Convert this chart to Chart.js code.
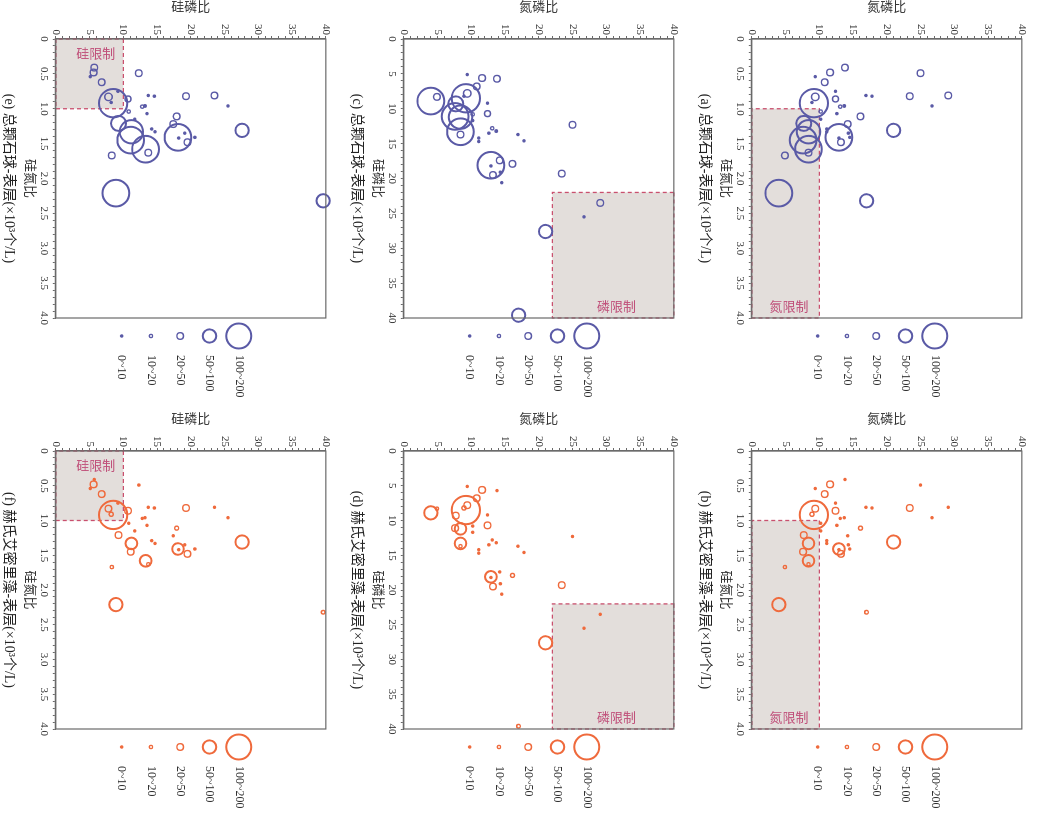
<!DOCTYPE html>
<html>
<head>
<meta charset="utf-8">
<script src="https://cdn.jsdelivr.net/npm/chart.js@4.4.1/dist/chart.umd.min.js"></script>
<style>
  html, body { margin: 0; padding: 0; background: #fff; overflow: hidden; width: 1038px; height: 817px; }
  /* the figure is laid out upright and then turned a quarter clockwise */
  #sheet { position: absolute; left: 0; top: 0; width: 817px; height: 1038px; background: #fff;
           transform-origin: 0 0; transform: translate(1038px, 0) rotate(90deg); }
  #sheet canvas { position: absolute; }
</style>
</head>
<body>
<div id="sheet">
  <canvas id="pa"></canvas>
  <canvas id="pb"></canvas>
  <canvas id="pc"></canvas>
  <canvas id="pd"></canvas>
  <canvas id="pe"></canvas>
  <canvas id="pf"></canvas>
</div>
<script>
// station ratios
const stationNP = [13.8, 11.6, 25.0, 9.4, 10.8, 12.4, 16.9, 17.8, 23.4, 29.1, 26.7, 9.2, 9.4, 8.9, 12.4, 13.1, 13.7, 12.6, 16.1, 10.2,
                   10.2, 14.2, 11.1, 11.1, 21.0, 7.7, 8.4, 7.6, 8.4, 8.4, 12.9, 13.2, 12.9, 14.3, 14.5, 4.9, 4.0, 17.0];
const stationSN = [0.41, 0.48, 0.49, 0.54, 0.62, 0.75, 0.81, 0.82, 0.82, 0.81, 0.96, 0.92, 0.83, 0.91, 0.86, 0.97, 0.96, 1.07, 1.11, 1.04,
                   1.15, 1.22, 1.29, 1.33, 1.31, 1.21, 1.33, 1.45, 1.58, 1.63, 1.41, 1.48, 1.42, 1.35, 1.41, 1.67, 2.21, 2.32];
const stationSP = [5.7, 5.6, 12.3, 5.1, 6.8, 9.2, 13.7, 14.6, 19.3, 23.5, 25.5, 8.5, 7.8, 8.2, 10.7, 12.8, 13.2, 13.5, 17.9, 10.8,
                   11.7, 17.4, 14.2, 14.7, 27.6, 9.3, 11.2, 11.1, 13.3, 13.7, 18.1, 19.5, 18.2, 19.1, 20.6, 8.3, 8.9, 39.6];
// abundance, x10^3 cells/L
const totalCells = [40, 40, 40, 5, 40, 5, 5, 5, 40, 40, 5, 170, 45, 5, 36, 20, 16, 5, 40, 20,
                    5, 40, 5, 5, 80, 90, 140, 160, 160, 40, 160, 40, 5, 5, 5, 40, 160, 80];
const ehuxCells  = [5, 40, 5, 5, 40, 5, 5, 5, 40, 5, 5, 170, 40, 25, 40, 5, 5, 5, 24, 5,
                    5, 5, 5, 5, 80, 40, 70, 40, 70, 20, 70, 40, 5, 5, 5, 20, 80, 22];

const sizeClasses = ['0~10', '10~20', '20~50', '50~100', '100~200'];
const sizeClassCells = [5, 20, 40, 80, 150];

const ratioTicks = ['0', '5', '10', '15', '20', '25', '30', '35', '40'];
const snTicks = ['0', '0.5', '1.0', '1.5', '2.0', '2.5', '3.0', '3.5', '4.0'];

const nLimit  = { x: [1.0, 4.0], y: [0, 10], text: '氮限制', at: [3.83, 5.5] };
const pLimit  = { x: [22, 40],   y: [22, 40], text: '磷限制', at: [38.3, 31.5] };
const siLimit = { x: [0, 1.0],   y: [0, 10], text: '硅限制', at: [0.2, 5.9] };

const blue = '#5a5aa6';
const orange = '#ef6a3c';
const axisGray = '#6a6a6a';

Chart.defaults.font.family = '"Liberation Serif", "Noto Sans CJK SC", serif';
Chart.defaults.color = '#333';

function radiusOf(cells) {
  return Math.max(1.1, cells / 12);
}

// shaded nutrient-limitation box with its dashed outline and label
const limitBox = {
  id: 'limitBox',
  beforeDatasetsDraw(chart, args, opts) {
    const box = opts.box;
    const { ctx } = chart;
    const xs = chart.scales.x, ys = chart.scales.y;
    const x0 = xs.getPixelForValue(box.x[0]), x1 = xs.getPixelForValue(box.x[1]);
    const y0 = ys.getPixelForValue(box.y[0]), y1 = ys.getPixelForValue(box.y[1]);
    ctx.save();
    ctx.fillStyle = '#e3dedb';
    ctx.fillRect(x0, y1, x1 - x0, y0 - y1);
    ctx.strokeStyle = '#c9506e';
    ctx.lineWidth = 1.3;
    ctx.setLineDash([4, 3]);
    ctx.strokeRect(x0, y1, x1 - x0, y0 - y1);
    ctx.setLineDash([]);
    ctx.translate(xs.getPixelForValue(box.at[0]), ys.getPixelForValue(box.at[1]));
    ctx.rotate(-Math.PI / 2);
    ctx.fillStyle = '#c0507a';
    ctx.font = '13px "Noto Sans CJK SC", sans-serif';
    ctx.textAlign = 'center';
    ctx.textBaseline = 'middle';
    ctx.fillText(box.text, 0, 0);
    ctx.restore();
  }
};

const frame = {
  id: 'frame',
  afterDatasetsDraw(chart) {
    const { ctx, chartArea: a } = chart;
    ctx.save();
    ctx.strokeStyle = axisGray;
    ctx.lineWidth = 1.2;
    ctx.strokeRect(a.left, a.top, a.right - a.left, a.bottom - a.top);
    ctx.restore();
  }
};

// size key to the right of each plot, largest class on top
const sizeLegend = {
  id: 'sizeLegend',
  afterDraw(chart, args, opts) {
    const { ctx, chartArea: a } = chart;
    ctx.save();
    ctx.font = '12px "Liberation Serif", serif';
    ctx.textBaseline = 'middle';
    ctx.textAlign = 'left';
    for (let j = 0; j < sizeClasses.length; j++) {
      const i = sizeClasses.length - 1 - j;
      const r = radiusOf(sizeClassCells[i]);
      const cy = a.top + 87 + j * 29.3;
      ctx.beginPath();
      ctx.arc(a.right + 18, cy, r, 0, Math.PI * 2);
      ctx.strokeStyle = opts.color;
      ctx.lineWidth = r > 5 ? 2 : 1.4;
      if (r < 1.5) { ctx.fillStyle = opts.color; ctx.fill(); }
      ctx.stroke();
      ctx.fillStyle = '#333';
      ctx.fillText(sizeClasses[i], a.right + 37, cy);
    }
    ctx.restore();
  }
};

const panels = [
  { id: 'pa', left: 0,   top: 0,   xs: stationSN, ys: stationNP, xMax: 4,  cells: totalCells, color: blue,
    xTitle: '硅氮比', yTitle: '氮磷比', caption: '(a) 总颗石球-表层(×10³个/L)', box: nLimit },
  { id: 'pb', left: 412, top: 0,   xs: stationSN, ys: stationNP, xMax: 4,  cells: ehuxCells, color: orange,
    xTitle: '硅氮比', yTitle: '氮磷比', caption: '(b) 赫氏艾密里藻-表层(×10³个/L)', box: nLimit },
  { id: 'pc', left: 0,   top: 348, xs: stationSP, ys: stationNP, xMax: 40, cells: totalCells, color: blue,
    xTitle: '硅磷比', yTitle: '氮磷比', caption: '(c) 总颗石球-表层(×10³个/L)', box: pLimit },
  { id: 'pd', left: 412, top: 348, xs: stationSP, ys: stationNP, xMax: 40, cells: ehuxCells, color: orange,
    xTitle: '硅磷比', yTitle: '氮磷比', caption: '(d) 赫氏艾密里藻-表层(×10³个/L)', box: pLimit },
  { id: 'pe', left: 0,   top: 696, xs: stationSN, ys: stationSP, xMax: 4,  cells: totalCells, color: blue,
    xTitle: '硅氮比', yTitle: '硅磷比', caption: '(e) 总颗石球-表层(×10³个/L)', box: siLimit },
  { id: 'pf', left: 412, top: 696, xs: stationSN, ys: stationSP, xMax: 4,  cells: ehuxCells, color: orange,
    xTitle: '硅氮比', yTitle: '硅磷比', caption: '(f) 赫氏艾密里藻-表层(×10³个/L)', box: siLimit }
];

panels.forEach(p => {
  const canvas = document.getElementById(p.id);
  const w = p.left === 0 ? 410 : 405;
  const h = 342;
  canvas.width = w; canvas.height = h;
  canvas.style.left = p.left + 'px';
  canvas.style.top = p.top + 'px';
  canvas.style.width = w + 'px';
  canvas.style.height = h + 'px';

  const xLabels = p.xMax === 4 ? snTicks : ratioTicks;
  const axisCommon = {
    type: 'linear',
    min: 0,
    grid: { drawOnChartArea: false, tickLength: 3, color: axisGray },
    border: { color: axisGray, width: 1.2 }
  };

  new Chart(canvas, {
    type: 'bubble',
    data: {
      datasets: [{
        data: p.xs.map((x, i) => ({ x: x, y: p.ys[i], r: radiusOf(p.cells[i]) })),
        borderColor: p.color,
        backgroundColor: ctx => (ctx.raw && ctx.raw.r < 1.5 ? p.color : 'rgba(0,0,0,0)'),
        borderWidth: ctx => (ctx.raw && ctx.raw.r > 5 ? 2 : 1.4),
        clip: false
      }]
    },
    options: {
      responsive: false,
      animation: false,
      events: [],
      layout: { padding: { top: 8, right: w - 39 - (p.left === 0 ? 279 : 278), left: 0, bottom: 0 } },
      scales: {
        x: Object.assign({}, axisCommon, {
          max: p.xMax,
          afterFit: s => { s.height = 34; },
          ticks: {
            stepSize: p.xMax / 40, autoSkip: false, maxRotation: 0, padding: 2, font: { size: 11 },
            callback: v => {
              const k = Math.round(v * 40 / p.xMax);
              return k % 5 === 0 ? xLabels[k / 5] : '';
            }
          },
          title: { display: true, text: p.xTitle, font: { size: 13 }, padding: 0 }
        }),
        y: Object.assign({}, axisCommon, {
          max: 40,
          afterFit: s => { s.width = 39; },
          ticks: {
            stepSize: 1, autoSkip: false, padding: 1, font: { size: 11 },
            callback: v => {
              const k = Math.round(v);
              return k % 5 === 0 ? ratioTicks[k / 5] : '';
            }
          },
          title: { display: true, text: p.yTitle, font: { size: 13 }, padding: 0 }
        })
      },
      plugins: {
        legend: { display: false },
        tooltip: { enabled: false },
        title: {
          display: true, position: 'bottom', fullSize: false, text: p.caption,
          font: { size: 14, weight: 'normal' }, color: '#222', padding: { top: 5, bottom: 0 }
        },
        limitBox: { box: p.box },
        sizeLegend: { color: p.color }
      }
    },
    plugins: [limitBox, frame, sizeLegend]
  });
});
</script>
</body>
</html>
